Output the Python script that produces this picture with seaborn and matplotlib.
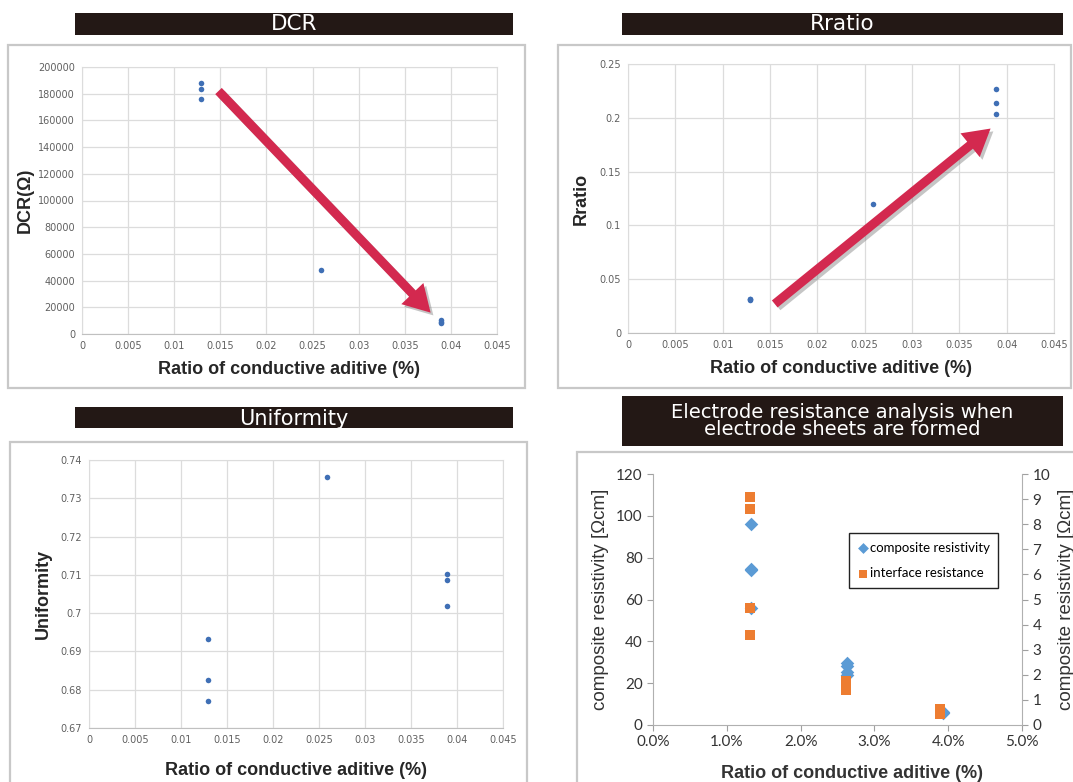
import numpy as np
import pandas as pd
import matplotlib
matplotlib.use("Agg")
import matplotlib.pyplot as plt
import matplotlib.patheffects as pe
from matplotlib.patches import Rectangle
from matplotlib.ticker import FuncFormatter, PercentFormatter
import seaborn as sns

# ---- data ----
ratio_x = [0.0129, 0.0129, 0.0129, 0.0259, 0.0389, 0.0389, 0.0389]
dcr = [188000, 183500, 175800, 47900, 10500, 9200, 8000]
rratio = [0.031, 0.032, 0.0315, 0.120, 0.2267, 0.2134, 0.2035]
uniformity = [0.6932, 0.6826, 0.6771, 0.7356, 0.7102, 0.7087, 0.7018]

comp_x = [0.0133, 0.0133, 0.0133, 0.0133, 0.0263, 0.0263, 0.0263, 0.0263, 0.0393, 0.0393]
comp_res = [96, 74.5, 74, 56, 29.5, 28, 25.5, 24, 6, 5.5]
iface_x = [0.0132, 0.0132, 0.0132, 0.0132, 0.0262, 0.0262, 0.0262, 0.0262, 0.0389, 0.0389, 0.0389]
iface_res = [9.1, 8.6, 4.65, 3.58, 1.75, 1.62, 1.5, 1.4, 0.65, 0.55, 0.45]

# trend arrows (start, end) in data units
dcr_arrow = [(0.0148, 182000), (0.0378, 16000)]
rratio_arrow = [(0.0155, 0.027), (0.0383, 0.190)]

W, H = 1073, 782
fig = plt.figure(figsize=(W / 100, H / 100), dpi=100)
fig.patch.set_facecolor("white")

def box(x0, y0, x1, y1):
    # pixel box (top-left origin) -> figure fraction rect
    return [x0 / W, 1 - y1 / H, (x1 - x0) / W, (y1 - y0) / H]

def frame(x0, y0, x1, y1):
    fig.add_artist(Rectangle((x0 / W, 1 - y1 / H), (x1 - x0) / W, (y1 - y0) / H,
                             transform=fig.transFigure, fill=False,
                             edgecolor="#c8c8c8", linewidth=1.6))

def title_bar(x0, y0, x1, y1, text, size=15.5, dy=0):
    fig.add_artist(Rectangle((x0 / W, 1 - y1 / H), (x1 - x0) / W, (y1 - y0) / H,
                             transform=fig.transFigure, facecolor="#231815",
                             edgecolor="none"))
    fig.text((x0 + x1) / 2 / W, 1 - ((y0 + y1) / 2 + dy) / H, text, color="white",
             ha="center", va="center", fontsize=size, family="DejaVu Sans",
             linespacing=0.85)

fmt_g = FuncFormatter(lambda v, p: f"{round(v, 5):g}")
blue_dot = "#3f6fb5"
arrow_red = "#d3294f"
xlabel = "Ratio of conductive aditive (%)"

def excel_panel(rect, y, ylim, ystep, ylab, ylabelpad=6, xlabelpad=7):
    ax = fig.add_axes(rect)
    df = pd.DataFrame({"x": ratio_x, "y": y})
    sns.scatterplot(data=df, x="x", y="y", ax=ax, color=blue_dot, s=16,
                    linewidth=0, zorder=3)
    ax.set_xlim(0, 0.045)
    ax.set_xticks(np.arange(0, 0.0451, 0.005))
    ax.set_ylim(*ylim)
    ax.set_yticks(np.arange(ylim[0], ylim[1] + ystep / 2, ystep))
    ax.xaxis.set_major_formatter(fmt_g)
    ax.yaxis.set_major_formatter(fmt_g)
    ax.grid(True, color="#dcdcdc", linewidth=0.9)
    ax.set_axisbelow(True)
    for s in ax.spines.values():
        s.set_color("#dcdcdc")
    ax.spines["bottom"].set_color("#c0c0c0")
    ax.tick_params(length=0, labelsize=7, labelcolor="#606060", pad=5)
    for lab in ax.get_xticklabels() + ax.get_yticklabels():
        lab.set_family("DejaVu Sans")
    ax.set_xlabel(xlabel, fontsize=13, fontweight="bold", family="Liberation Sans",
                  color="#262626", labelpad=xlabelpad)
    ax.set_ylabel(ylab, fontsize=13, fontweight="bold", family="Liberation Sans",
                  color="#262626", labelpad=ylabelpad)
    return ax

def trend_arrow(ax, pts):
    ann = ax.annotate("", xy=pts[1], xytext=pts[0],
                      arrowprops=dict(facecolor=arrow_red, edgecolor="none",
                                      width=6.5, headwidth=22, headlength=19, shrink=0))
    ann.arrow_patch.set_path_effects([
        pe.SimplePatchShadow(offset=(2, -2), shadow_rgbFace="#808080", alpha=0.45),
        pe.Normal()])
    ann.set_zorder(4)

# ---- frames and title bars ----
frame(8, 45, 525, 388)
frame(558, 45, 1071, 388)
frame(10, 442, 527, 790)
frame(577, 452, 1080, 790)
title_bar(75, 13, 513, 35, "DCR")
title_bar(622, 13, 1063, 35, "Rratio")
title_bar(75, 407, 513, 428, "Uniformity", size=15, dy=1.5)
title_bar(622, 396, 1063, 446, "Electrode resistance analysis when\nelectrode sheets are formed", size=14)

# ---- DCR ----
ax1 = excel_panel(box(82, 67, 497, 334), dcr, (0, 200000), 20000, "DCR(Ω)", ylabelpad=3)
trend_arrow(ax1, dcr_arrow)

# ---- Rratio ----
ax2 = excel_panel(box(628, 64, 1054, 333), rratio, (0, 0.25), 0.05, "Rratio", ylabelpad=7)
trend_arrow(ax2, rratio_arrow)

# ---- Uniformity ----
ax3 = excel_panel(box(89, 460, 503, 728), uniformity, (0.67, 0.74), 0.01, "Uniformity",
                  xlabelpad=12)

# ---- electrode resistance (two y axes) ----
ax4 = fig.add_axes(box(653, 474, 1022, 725))
ax4b = ax4.twinx()
comp_df = pd.DataFrame({"x": comp_x, "y": comp_res})
iface_df = pd.DataFrame({"x": iface_x, "y": iface_res})
sns.scatterplot(data=comp_df, x="x", y="y", ax=ax4, color="#5b9bd5", marker="D",
                s=48, linewidth=0, label="composite resistivity", legend=False)
sns.scatterplot(data=iface_df, x="x", y="y", ax=ax4b, color="#ed7d31", marker="s",
                s=55, linewidth=0, label="interface resistance", legend=False)
ax4.set_xlim(0, 0.05)
ax4.set_xticks(np.arange(0, 0.0501, 0.01))
ax4.xaxis.set_major_formatter(PercentFormatter(xmax=1, decimals=1))
ax4.set_ylim(0, 120)
ax4.set_yticks(range(0, 121, 20))
ax4b.set_ylim(0, 10)
ax4b.set_yticks(range(0, 11))
for a in (ax4, ax4b):
    for s in a.spines.values():
        s.set_visible(False)
    a.tick_params(labelsize=11, labelcolor="#333333", color="#a0a0a0", length=4, width=0.8)
    for lab in a.get_xticklabels() + a.get_yticklabels():
        lab.set_family("Lato")
ax4.spines["left"].set_visible(True)
ax4.spines["bottom"].set_visible(True)
ax4b.spines["right"].set_visible(True)
for s in (ax4.spines["left"], ax4.spines["bottom"], ax4b.spines["right"]):
    s.set_color("#b0b0b0")
ax4.set_xlabel(xlabel, fontsize=13, fontweight="bold", family="Liberation Sans",
               color="#333333", labelpad=10)
ax4.xaxis.set_label_coords(0.54, -0.16)
ax4.set_ylabel("composite resistivity [Ωcm]", fontsize=13.5, family="Liberation Sans",
               color="#333333", labelpad=5)
ax4b.set_ylabel("composite resistivity [Ωcm]", fontsize=13.5, family="Liberation Sans",
                color="#333333", labelpad=6)
h1, l1 = ax4.get_legend_handles_labels()
h2, l2 = ax4b.get_legend_handles_labels()
leg = ax4b.legend(h1 + h2, l1 + l2, loc="upper left", bbox_to_anchor=(0.53, 0.765),
                  frameon=True, fancybox=False, edgecolor="#222222", framealpha=1,
                  prop={"family": "Lato", "size": 9.5}, handletextpad=0.05,
                  labelspacing=1.05, borderpad=0.65, borderaxespad=0,
                  markerscale=0.8, handlelength=0.9)
leg.get_frame().set_linewidth(1.0)

fig.savefig("out.png", dpi=100)
